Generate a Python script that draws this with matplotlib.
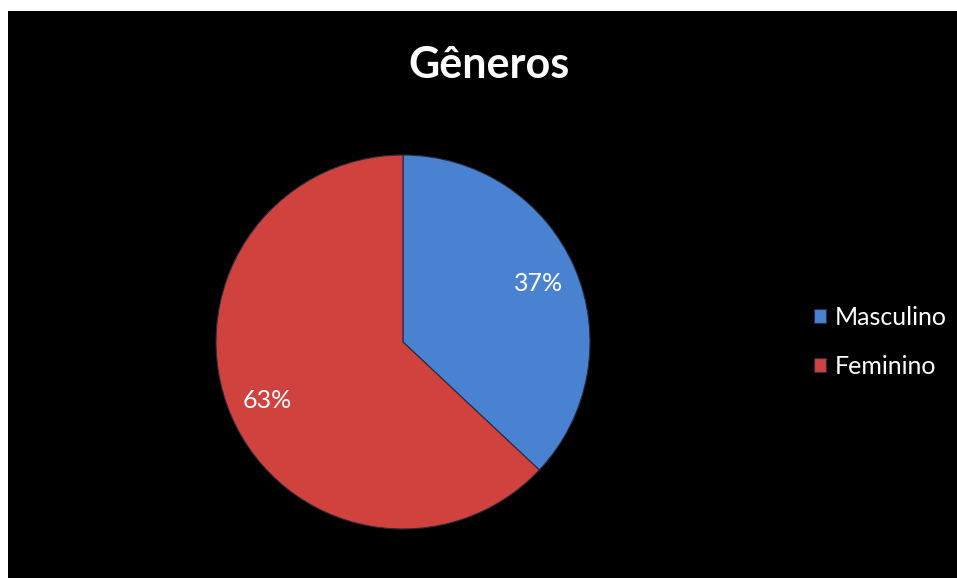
import matplotlib.pyplot as plt
from matplotlib.patches import Rectangle

categorias = ['Masculino', 'Feminino']
valores = [37, 63]
cores = ['#4A82D2', '#CF423E']

fig = plt.figure(figsize=(9.57, 5.78), dpi=100)
fig.patch.set_facecolor('white')

# black chart area
fig.patches.append(Rectangle((8 / 957, 0), 1, (578 - 11) / 578,
                             transform=fig.transFigure, facecolor='black',
                             edgecolor='none', zorder=-5))

W, H = 957, 578
cx, cy, r = 403, 342, 187
ax = fig.add_axes([(cx - r) / W, (H - cy - r) / H, 2 * r / W, 2 * r / H])
ax.set_zorder(2)
ax.set_facecolor('none')

wedges, texts, autotexts = ax.pie(
    valores, colors=cores, startangle=90, counterclock=False,
    autopct='%1.0f%%', pctdistance=0.79,
    wedgeprops=dict(edgecolor='#2a2a3a', linewidth=0.8),
    textprops=dict(color='white', fontsize=18, family='Lato'))
ax.set_xlim(-1, 1)
ax.set_ylim(-1, 1)
ax.set_aspect('equal')

fig.text(489 / W, 1 - 65 / H, 'Gêneros', color='white', fontsize=31,
         fontweight='bold', family='Lato', ha='center', va='center')

leg = fig.legend(wedges, categorias, loc='center left',
                 bbox_to_anchor=(791 / W, 1 - 342 / H), frameon=False,
                 handlelength=0.5, handleheight=0.5, handletextpad=0.35,
                 labelspacing=1.05, prop=dict(family='Lato', size=18))
leg.set_zorder(3)
for t in leg.get_texts():
    t.set_color('white')

fig.savefig('out.png', dpi=100, facecolor=fig.get_facecolor())
